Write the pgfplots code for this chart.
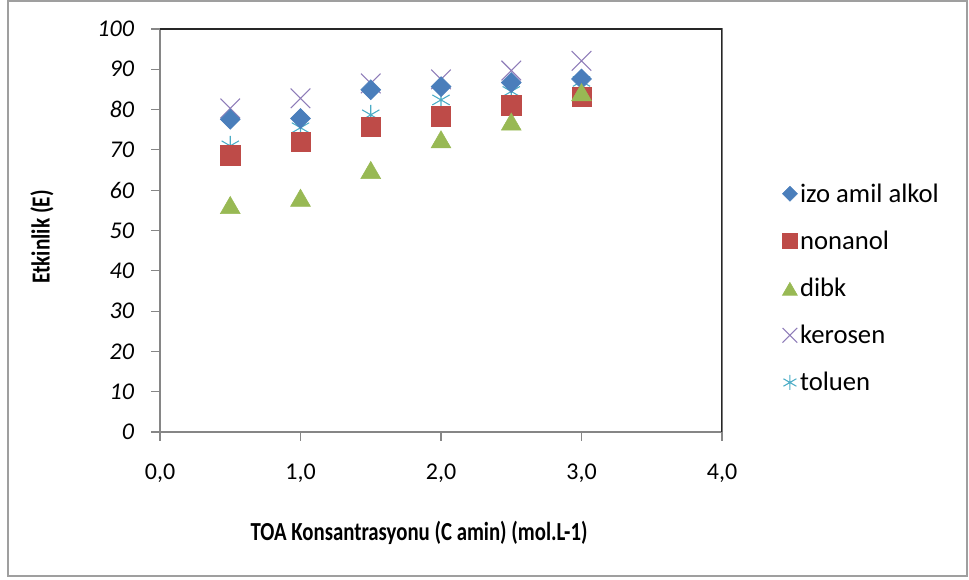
\documentclass[border=0pt]{standalone}
\usepackage{graphicx}
\usepackage{pgfplots}
\pgfplotsset{compat=1.18}
\usepackage{fontspec}
\setmainfont{Carlito}

\definecolor{cblue}{HTML}{4A7EBB}
\definecolor{cred}{HTML}{BE4B48}
\definecolor{cgreen}{HTML}{98B954}
\definecolor{cpurple}{HTML}{8E7CB8}
\definecolor{ccyan}{HTML}{4BACC6}
\definecolor{axgray}{HTML}{868686}

\pgfplotsset{
  izo/.style={only marks, mark=square*, mark size=5.3pt, mark options={rotate=45, draw=cblue, fill=cblue}},
  non/.style={only marks, mark=square*, mark size=7.3pt, mark options={draw=cred, fill=cred}},
  dib/.style={only marks, mark=triangle*, mark size=8.6pt, mark options={draw=cgreen, fill=cgreen, yshift=-2.1pt}},
  ker/.style={only marks, mark=x, mark size=10.4pt, mark options={draw=cpurple, line width=0.8pt}},
  tol/.style={only marks, mark=asterisk, mark size=7.5pt, mark options={draw=ccyan, line width=0.8pt}},
}

\begin{document}
\begin{tikzpicture}
% page and outer frame (pixel grid, 0.75pt per pixel)
\begin{scope}[x=0.75pt,y=0.75pt]
\path[use as bounding box] (0,0) rectangle (969,579);
\draw[gray!75, line width=1.2pt] (8,3) rectangle (967,578);
\end{scope}

\begin{axis}[
  at={(120pt,110.25pt)}, anchor=south west,
  scale only axis, width=421.5pt, height=302.25pt,
  xmin=0, xmax=4, ymin=0, ymax=100,
  xtick={0,1,2,3,4}, ytick={0,10,...,100},
  axis line style={axgray, line width=0.8pt},
  tick style={axgray, line width=0.8pt},
  tick align=outside, major tick length=6.5pt,
  xtick pos=bottom, ytick pos=left,
  /pgf/number format/assume math mode=true,
  xticklabel style={font=\fontsize{18}{20}\selectfont, yshift=-14pt, /pgf/number format/.cd, fixed, fixed zerofill, precision=1, use comma},
  yticklabel style={font=\fontsize{18}{20}\selectfont\itshape, xshift=-9.5pt},
  legend cell align=left,
  legend image code/.code={\draw[#1, every mark/.append style={scale=0.75}] plot coordinates {(0.3cm,0cm)};},
  legend style={at={(axis description cs:1.107,0.357)}, anchor=west, draw=none, fill=none,
    inner sep=0pt, row sep=16pt, font=\fontsize{20}{22}\selectfont},
]
% legend entries in series order
\addlegendimage{izo}\addlegendentry{izo amil alkol}
\addlegendimage{non}\addlegendentry{nonanol}
\addlegendimage{dib}\addlegendentry{dibk}
\addlegendimage{ker}\addlegendentry{kerosen}
\addlegendimage{tol}\addlegendentry{toluen}

% series; the thin markers go underneath
\addplot[ker, forget plot] coordinates {(0.5,80.3) (1,82.8) (1.5,86.5) (2,87.5) (2.5,89.7) (3,92.1)};
\addplot[tol, forget plot] coordinates {(0.5,71.0) (1,75.5) (1.5,78.7) (2,82.4) (2.5,84.5) (3,87.0)};
\addplot[izo, forget plot] coordinates {(0.5,77.6) (1,77.8) (1.5,84.9) (2,85.7) (2.5,86.7) (3,87.6)};
\addplot[non, forget plot] coordinates {(0.5,68.7) (1,72.0) (1.5,75.8) (2,78.4) (2.5,81.1) (3,83.2)};
\addplot[dib, forget plot] coordinates {(0.5,56.3) (1,58.1) (1.5,65.0) (2,72.6) (2.5,77.0) (3,84.3)};

% plot area border, top and right
\draw[black!85, line width=0.8pt] (rel axis cs:0,1) -- (rel axis cs:1,1) -- (rel axis cs:1,0);
\end{axis}

\begin{scope}[x=0.75pt,y=0.75pt]
\node[font=\fontsize{19.5}{22}\selectfont\bfseries] at (419,46)
  {\scalebox{0.8}[1]{TOA Konsantrasyonu (C amin) (mol.L-1)}};
\node[font=\fontsize{19.5}{22}\selectfont\bfseries, rotate=90] at (42,342)
  {\scalebox{0.82}[1]{Etkinlik (E)}};
\end{scope}
\end{tikzpicture}
\end{document}
